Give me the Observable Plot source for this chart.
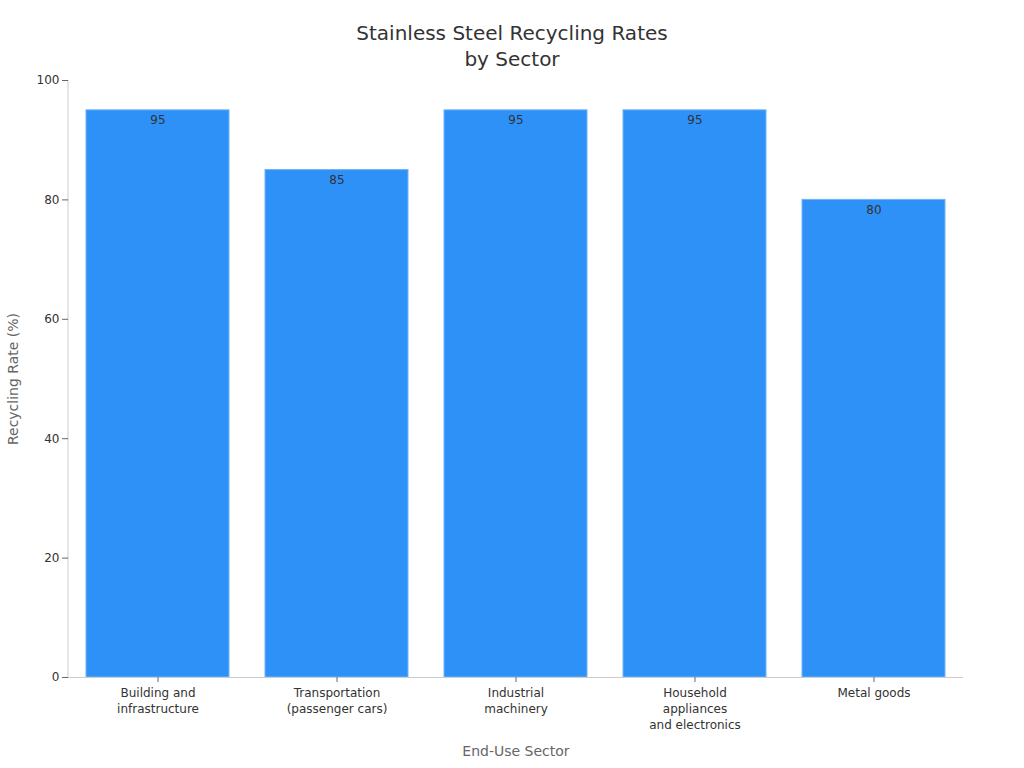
<!DOCTYPE html>
<html>
<head>
<meta charset="utf-8">
<script src="https://cdn.jsdelivr.net/npm/d3@7"></script>
<script src="https://cdn.jsdelivr.net/npm/@observablehq/plot@0.6"></script>
<style>
  html, body { margin: 0; padding: 0; background: #fff; }
  body { width: 1024px; height: 768px; overflow: hidden; font-family: "DejaVu Sans", sans-serif; }
  #title { height: 65px; text-align: center; color: #333; font-size: 20px; line-height: 26px; padding-top: 20px; box-sizing: border-box; overflow: visible; }
  #chart svg { overflow: visible; }
</style>
</head>
<body>
<div id="title">Stainless Steel Recycling Rates<br>by Sector</div>
<div id="chart"></div>
<script>
const sectors = [
  "Building and\ninfrastructure",
  "Transportation\n(passenger cars)",
  "Industrial\nmachinery",
  "Household\nappliances\nand electronics",
  "Metal goods"
];
const rates = [95, 85, 95, 95, 80];
const yTicks = [0, 20, 40, 60, 80, 100];

const data = sectors.map((s, i) => ({sector: s, rate: rates[i]}));

const leftLine = (index, scales, values, dims) => {
  const g = d3.create("svg:line")
    .attr("x1", dims.marginLeft).attr("x2", dims.marginLeft)
    .attr("y1", scales.y(100)).attr("y2", scales.y(0))
    .attr("stroke", "#ccc").attr("stroke-width", 1);
  return g.node();
};

const chart = Plot.plot({
  width: 1024,
  height: 703,
  marginTop: 15,
  marginBottom: 91,
  marginLeft: 68,
  marginRight: 61,
  style: {fontFamily: "DejaVu Sans, sans-serif", fontSize: "12px", color: "#333", background: "#fff"},
  x: {domain: sectors, paddingInner: 0.2, paddingOuter: 0.1, label: null},
  y: {domain: [0, 100], label: null},
  marks: [
    Plot.barY(data, {x: "sector", y: "rate", fill: "#2E91F8", stroke: "#6FB3F9", strokeWidth: 1}),
    Plot.text(data, {x: "sector", y: "rate", text: d => String(d.rate), dy: 10, fill: "#333", fontSize: 12}),
    Plot.ruleY([0], {stroke: "#ccc", strokeWidth: 1}),
    leftLine,
    Plot.axisY({ticks: yTicks, tickSize: 6, tickPadding: 3, stroke: "#666", color: "#333", fontSize: 12, label: null}),
    Plot.axisX({tickSize: 5, tickPadding: 3, lineHeight: 1.33, fontSize: 12, stroke: "#666", color: "#333", label: null}),
    Plot.text(["Recycling Rate (%)"], {frameAnchor: "left", textAnchor: "middle", dx: -55, rotate: -90, fill: "#666", fontSize: 14}),
    Plot.text(["End-Use Sector"], {frameAnchor: "bottom", dy: 78, fill: "#666", fontSize: 14})
  ]
});
document.getElementById("chart").appendChild(chart);
</script>
</body>
</html>
